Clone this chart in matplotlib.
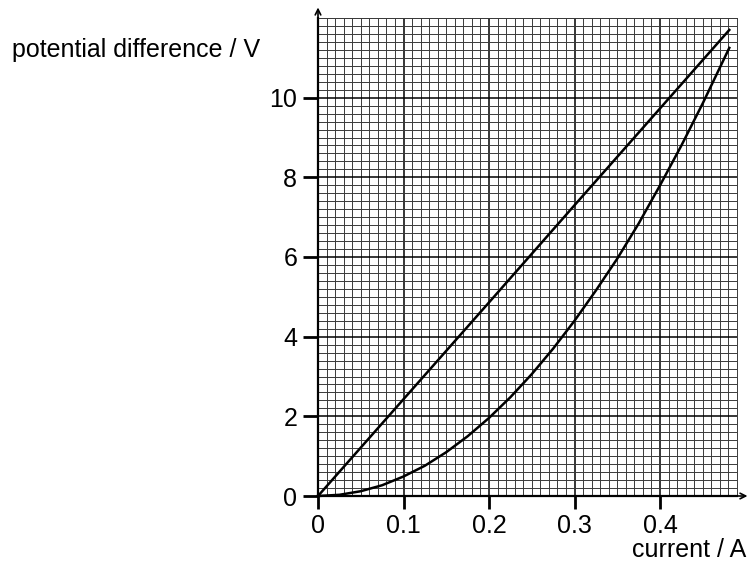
import matplotlib
matplotlib.use("Agg")
import matplotlib.pyplot as plt
from matplotlib.ticker import MultipleLocator

plt.rcParams["font.family"] = ["Liberation Sans", "DejaVu Sans"]

current_lin = [0.0, 0.1, 0.2, 0.3, 0.4, 0.481]
pd_lin = [0.0, 2.43, 4.86, 7.3, 9.73, 11.7]

current_curve = [0.0, 0.025, 0.05, 0.075, 0.1, 0.125, 0.15, 0.175, 0.2, 0.225,
                 0.25, 0.275, 0.3, 0.325, 0.35, 0.375, 0.4, 0.425, 0.45, 0.481]
pd_curve = [0.0, 0.03, 0.12, 0.27, 0.49, 0.76, 1.1, 1.5, 1.96, 2.48,
            3.06, 3.7, 4.4, 5.16, 5.96, 6.84, 7.8, 8.8, 9.86, 11.25]

x_ticks = [0, 0.1, 0.2, 0.3, 0.4]
x_labels = ["0", "0.1", "0.2", "0.3", "0.4"]
y_ticks = [0, 2, 4, 6, 8, 10]

fig = plt.figure(figsize=(7.49, 5.63), dpi=100)
ax = fig.add_axes([318 / 749, 67 / 563, 419 / 749, 478 / 563])
ax.set_xlim(0, 0.49)
ax.set_ylim(0, 12)

# graph paper
ax.xaxis.set_minor_locator(MultipleLocator(0.01))
ax.yaxis.set_minor_locator(MultipleLocator(0.2))
ax.set_xticks(x_ticks, x_labels)
ax.set_yticks(y_ticks)
ax.grid(which="minor", color="#3a3a3a", linewidth=0.7)
ax.grid(which="major", color="black", linewidth=1.1)
ax.set_axisbelow(True)

for s in ["top", "right"]:
    ax.spines[s].set_color("#3a3a3a")
    ax.spines[s].set_linewidth(0.7)
for s in ["left", "bottom"]:
    ax.spines[s].set_linewidth(1.6)

ax.tick_params(which="major", direction="out", length=9, width=2,
               labelsize=18, colors="black", pad=4)
ax.tick_params(axis="y", which="major", length=11)
ax.tick_params(which="minor", length=0)

ax.plot(current_lin, pd_lin, color="black", linewidth=1.8, clip_on=False)
ax.plot(current_curve, pd_curve, color="black", linewidth=1.8, clip_on=False)

# axis arrows
ax.annotate("", xy=(0, 1.022), xytext=(0, 0.99), xycoords="axes fraction",
            arrowprops=dict(arrowstyle="->", color="black", lw=1.2,
                            shrinkA=0, shrinkB=0))
ax.annotate("", xy=(1.025, 0), xytext=(0.99, 0), xycoords="axes fraction",
            arrowprops=dict(arrowstyle="->", color="black", lw=1.2,
                            shrinkA=0, shrinkB=0))

fig.text(12 / 749, 1 - 50 / 563, "potential difference / V", fontsize=18,
         ha="left", va="center")
fig.text(746 / 749, 1 - 550 / 563, "current / A", fontsize=18,
         ha="right", va="center")

fig.savefig("out.png", dpi=100)
